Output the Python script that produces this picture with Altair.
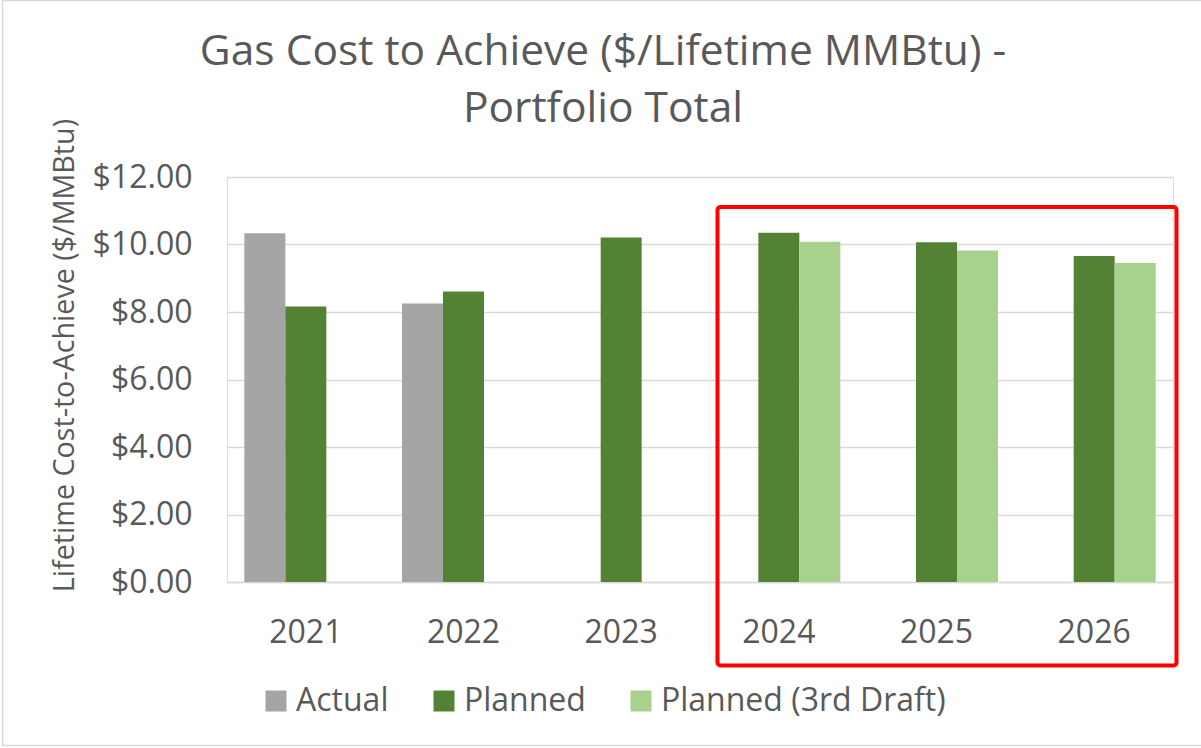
import altair as alt
import pandas as pd

# ---- data ----
years = ["2021", "2022", "2023", "2024", "2025", "2026"]
series_names = ["Actual", "Planned", "Planned (3rd Draft)"]
actual = [10.33, 8.25, None, None, None, None]
planned = [8.16, 8.61, 10.21, 10.35, 10.07, 9.66]
planned_3rd = [None, None, None, 10.08, 9.82, 9.45]
series_colors = ["#A5A5A5", "#548235", "#A9D18E"]
y_ticks = [0, 2, 4, 6, 8, 10, 12]
title_lines = ["Gas Cost to Achieve ($/Lifetime MMBtu) -", "Portfolio Total"]

rows = []
for name, vals in zip(series_names, [actual, planned, planned_3rd]):
    for yr, v in zip(years, vals):
        if v is not None:
            rows.append({"year": yr, "series": name, "value": v})
df = pd.DataFrame(rows)

FONT = "Open Sans"
TXT = "#595959"
GRID = "#D9D9D9"
W, H = 946, 405
PL, PT = 227, 177

bars = alt.Chart(df).mark_bar().encode(
    x=alt.X(
        "year:N",
        sort=years,
        scale=alt.Scale(domain=years, paddingInner=0.22, paddingOuter=0.11),
        axis=alt.Axis(
            title=None, labelAngle=0, labelFontSize=32, labelFont=FONT,
            labelColor=TXT, ticks=False, tickSize=0, labelPadding=60,
            labelBaseline="alphabetic", domainColor=GRID, domainWidth=1.5,
            grid=False,
        ),
    ),
    xOffset=alt.XOffset(
        "series:N",
        sort=series_names,
        scale=alt.Scale(domain=series_names, paddingInner=0, paddingOuter=0),
    ),
    y=alt.Y(
        "value:Q",
        scale=alt.Scale(domain=[0, 12], nice=False),
        axis=alt.Axis(
            values=y_ticks, format="$.2f", labelFontSize=32, labelFont=FONT,
            labelColor=TXT, ticks=False, tickSize=0, labelPadding=35,
            domain=False, gridColor=GRID, gridWidth=1.5,
            title="Lifetime Cost-to-Achieve ($/MMBtu)", titleFont=FONT,
            titleFontSize=28.7, titleFontWeight="normal", titleColor=TXT,
            titleAngle=270, titleX=-154, titleY=178, titleBaseline="alphabetic",
            titleAlign="center",
        ),
    ),
    color=alt.Color(
        "series:N",
        scale=alt.Scale(domain=series_names, range=series_colors),
        legend=alt.Legend(
            orient="none", legendX=33, legendY=508, direction="horizontal",
            title=None, symbolType="square", symbolSize=441,
            symbolStrokeWidth=0, labelFontSize=32, labelFont=FONT,
            labelColor=TXT, columnPadding=39, labelOffset=4, padding=0,
            symbolOpacity=1, labelLimit=0,
        ),
    ),
)

# annotation box around 2024-2026
box = alt.Chart(pd.DataFrame({"a": [0]})).mark_rect(
    fillOpacity=0, stroke="#FF0000", strokeWidth=4, cornerRadius=3
).encode(
    x=alt.value(490.5), x2=alt.value(949.5), y=alt.value(30), y2=alt.value(488.5)
)

# chart frame
frame = alt.Chart(pd.DataFrame({"a": [0]})).mark_rect(
    fillOpacity=0, stroke=GRID, strokeWidth=1.5
).encode(
    x=alt.value(-224.5), x2=alt.value(980), y=alt.value(-176.5), y2=alt.value(568.5)
)

# chart title (two lines)
def title_line(txt, y):
    return alt.Chart(pd.DataFrame({"t": [txt]})).mark_text(
        font=FONT, fontSize=42.5, color=TXT, align="center",
        baseline="alphabetic",
    ).encode(text="t:N", x=alt.value(376), y=alt.value(y))

t1 = title_line(title_lines[0], 65 - PT)
t2 = title_line(title_lines[1], 121.7 - PT)

chart = alt.layer(frame, bars, box, t1, t2).properties(
    width=W,
    height=H,
    padding={"left": PL, "top": PT, "right": 1201 - PL - W, "bottom": 748 - PT - H},
    autosize=alt.AutoSizeParams(type="none"),
).configure_view(stroke=None).configure(background="white")

chart.save("out.html", embed_options={"renderer": "svg", "actions": False})
